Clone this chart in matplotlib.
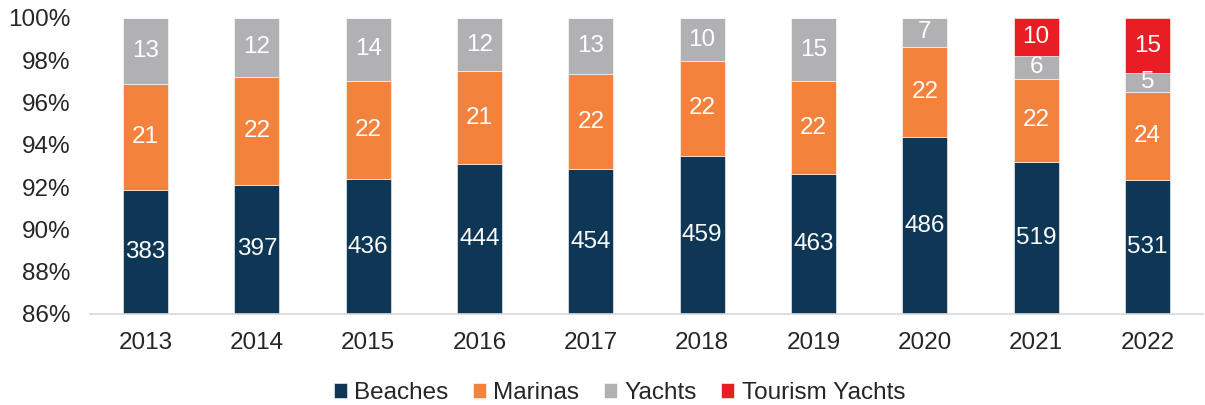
import numpy as np
import matplotlib.pyplot as plt
from matplotlib.ticker import PercentFormatter

plt.rcParams['font.family'] = ['Liberation Sans', 'DejaVu Sans']

years = ['2013', '2014', '2015', '2016', '2017', '2018', '2019', '2020', '2021', '2022']
beaches = [383, 397, 436, 444, 454, 459, 463, 486, 519, 531]
marinas = [21, 22, 22, 21, 22, 22, 22, 22, 22, 24]
yachts = [13, 12, 14, 12, 13, 10, 15, 7, 6, 5]
tourism_yachts = [0, 0, 0, 0, 0, 0, 0, 0, 10, 15]

series = [
    ('Beaches', beaches, '#0E3756'),
    ('Marinas', marinas, '#F3823C'),
    ('Yachts', yachts, '#B1B1B4'),
    ('Tourism Yachts', tourism_yachts, '#E91E25'),
]

counts = np.array([s[1] for s in series], dtype=float)
totals = counts.sum(axis=0)
shares = counts / totals * 100

fig = plt.figure(figsize=(12.05, 4.05), dpi=100)
ax = fig.add_axes([90 / 1205, 1 - 314 / 405, 1113 / 1205, 296 / 405])

x = np.arange(len(years))
bottom = np.zeros(len(years))
for (name, vals, color), share in zip(series, shares):
    ax.bar(x, share, 0.405, bottom=bottom, color=color, label=name,
           edgecolor='white', linewidth=0.4)
    for i, v in enumerate(vals):
        if v == 0:
            continue
        # keep labels inside the visible part of the axis
        lo = max(bottom[i], 86)
        ymid = (lo + bottom[i] + share[i]) / 2
        ax.text(x[i], ymid, str(v), ha='center', va='center',
                color='white', fontsize=17.5)
    bottom += share

ax.set_ylim(86, 100)
ax.set_xlim(-0.5, len(years) - 0.5)
ax.set_yticks(np.arange(86, 101, 2))
ax.yaxis.set_major_formatter(PercentFormatter(decimals=0))
ax.set_xticks(x)
ax.set_xticklabels(years)
ax.tick_params(axis='both', length=0, labelsize=17.5, colors='#262626')
ax.tick_params(axis='x', pad=13)
ax.tick_params(axis='y', pad=14)

for side in ['top', 'right', 'left']:
    ax.spines[side].set_visible(False)
ax.spines['bottom'].set_color('#D9D9D9')
ax.spines['bottom'].set_linewidth(1.2)

fig.legend(loc='center', bbox_to_anchor=(0.514, 1 - 393 / 405), ncol=4,
           frameon=False, fontsize=17.5, handlelength=0.55, handleheight=0.55,
           handletextpad=0.3, columnspacing=1.0, labelcolor='#262626',
           borderpad=0)

fig.savefig('out.png', dpi=100)
